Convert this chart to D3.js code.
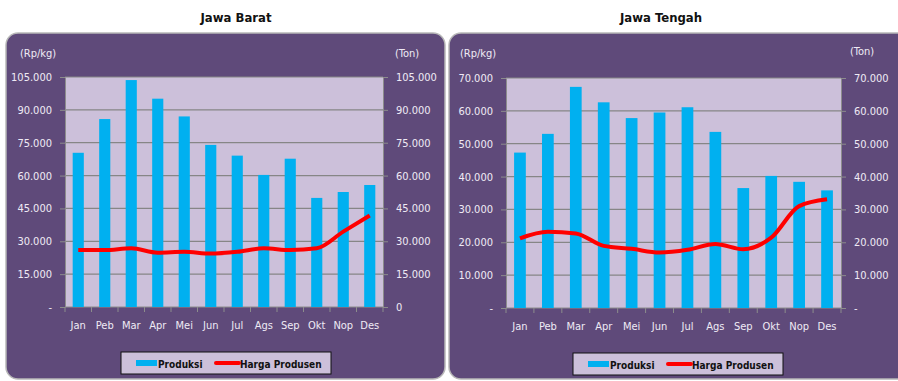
<!DOCTYPE html>
<html>
<head>
<meta charset="utf-8">
<script src="https://cdn.jsdelivr.net/npm/d3@7"></script>
<style>
  body { margin: 0; background: #fff; }
  svg { display: block; }
</style>
</head>
<body>
<svg id="chart" width="898" height="381"></svg>
<script>
// data
const months = ["Jan", "Peb", "Mar", "Apr", "Mei", "Jun", "Jul", "Ags", "Sep", "Okt", "Nop", "Des"];

const baratProduksi = [70400, 85800, 103600, 95100, 87000, 74000, 69100, 60300, 67700, 49800, 52500, 55700];
const baratHarga = [26000, 26000, 26800, 24800, 25200, 24400, 25200, 26800, 26000, 26800, 34400, 41800];
const baratTicks = [0, 15000, 30000, 45000, 60000, 75000, 90000, 105000];

const tengahProduksi = [47300, 53000, 67300, 62600, 57800, 59500, 61100, 53600, 36500, 40200, 38400, 35800];
const tengahHarga = [21200, 23200, 22700, 18900, 18000, 16900, 17700, 19500, 17900, 21400, 31000, 33100];
const tengahTicks = [0, 10000, 20000, 30000, 40000, 50000, 60000, 70000];

const svg = d3.select("#chart");
const font = "'DejaVu Sans Condensed', 'DejaVu Sans', sans-serif";
const fmt = v => v === 0 ? "-" : d3.format(",.0f")(v).replace(/,/g, ".");

function panel(o) {
  const g = svg.append("g");

  // title above the box
  g.append("text")
    .attr("x", o.titleX).attr("y", 22)
    .attr("text-anchor", "middle")
    .style("font", `bold 13px ${font}`)
    .attr("fill", "#111")
    .text(o.title);

  // purple rounded box
  g.append("rect")
    .attr("x", o.box[0]).attr("y", o.box[1])
    .attr("width", o.box[2]).attr("height", o.box[3])
    .attr("rx", 12)
    .attr("fill", "#5f4a7a")
    .attr("stroke", "#b8b8b8").attr("stroke-width", 1.5);

  const x = d3.scaleBand().domain(months).range([o.left, o.right]);
  const y = d3.scaleLinear().domain([0, o.max]).range([o.bottom, o.top]);

  // plot area
  g.append("rect")
    .attr("x", o.left).attr("y", o.top)
    .attr("width", o.right - o.left).attr("height", o.bottom - o.top)
    .attr("fill", "#ccc0da");

  // gridlines
  g.append("g").selectAll("line")
    .data(o.ticks.slice(1))
    .join("line")
    .attr("x1", o.left).attr("x2", o.right)
    .attr("y1", d => y(d)).attr("y2", d => y(d))
    .attr("stroke", "#868686").attr("stroke-width", 1.2);

  const tickText = sel => sel.selectAll("text")
    .style("font", `11px ${font}`).attr("fill", "#efeaf5");

  // left axis
  g.append("g")
    .attr("transform", `translate(${o.left},0)`)
    .call(d3.axisLeft(y).tickValues(o.ticks).tickFormat(fmt).tickSize(5).tickSizeOuter(0).tickPadding(8))
    .call(a => a.select(".domain").attr("stroke", "#8c8c8c"))
    .call(a => a.selectAll(".tick line").attr("stroke", "#8c8c8c"))
    .call(tickText);

  // right axis
  g.append("g")
    .attr("transform", `translate(${o.right},0)`)
    .call(d3.axisRight(y).tickValues(o.ticks).tickFormat(d => d === 0 ? o.rightZero : fmt(d)).tickSize(5).tickSizeOuter(0).tickPadding(8))
    .call(a => a.select(".domain").attr("stroke", "#8c8c8c"))
    .call(a => a.selectAll(".tick line").attr("stroke", "#8c8c8c"))
    .call(tickText);

  // bottom axis: ticks between categories
  g.append("line")
    .attr("x1", o.left).attr("x2", o.right)
    .attr("y1", o.bottom).attr("y2", o.bottom)
    .attr("stroke", "#8c8c8c").attr("stroke-width", 1.2);
  g.append("g").selectAll("line")
    .data(d3.range(months.length + 1))
    .join("line")
    .attr("x1", i => o.left + i * x.step()).attr("x2", i => o.left + i * x.step())
    .attr("y1", o.bottom).attr("y2", o.bottom + 5)
    .attr("stroke", "#8c8c8c");
  g.append("g").selectAll("text")
    .data(months)
    .join("text")
    .attr("x", d => x(d) + x.bandwidth() / 2)
    .attr("y", o.bottom + 22)
    .attr("text-anchor", "middle")
    .style("font", `11px ${font}`)
    .attr("fill", "#efeaf5")
    .text(d => d);

  // unit labels
  g.append("text").attr("x", o.unitL).attr("y", 57)
    .style("font", `11px ${font}`).attr("fill", "#efeaf5").text("(Rp/kg)");
  g.append("text").attr("x", o.unitR).attr("y", o.unitRY)
    .style("font", `11px ${font}`).attr("fill", "#efeaf5").text("(Ton)");

  // bars
  const bw = x.bandwidth() * 0.42;
  g.append("g").selectAll("rect")
    .data(o.produksi)
    .join("rect")
    .attr("x", (d, i) => x(months[i]) + (x.bandwidth() - bw) / 2)
    .attr("y", d => y(d))
    .attr("width", bw)
    .attr("height", d => o.bottom - y(d))
    .attr("fill", "#00b0f0");

  // price line
  const line = d3.line()
    .x((d, i) => x(months[i]) + x.bandwidth() / 2)
    .y(d => y(d))
    .curve(d3.curveMonotoneX);
  g.append("path")
    .datum(o.harga)
    .attr("d", line)
    .attr("fill", "none")
    .attr("stroke", "#ff0000")
    .attr("stroke-width", 4)
    .attr("stroke-linejoin", "round");

  // legend
  const lg = g.append("g").attr("transform", `translate(${o.legend[0]},${o.legend[1]})`);
  lg.append("rect")
    .attr("width", 210).attr("height", 22)
    .attr("fill", "#ccc0da").attr("stroke", "#111").attr("stroke-width", 1);
  lg.append("rect").attr("x", 15).attr("y", 8).attr("width", 21).attr("height", 6).attr("fill", "#00b0f0");
  lg.append("text").attr("x", 37).attr("y", 15.5)
    .style("font", `bold 10px ${font}`).attr("fill", "#111").text("Produksi");
  lg.append("line").attr("x1", 95).attr("x2", 118).attr("y1", 11).attr("y2", 11)
    .attr("stroke", "#ff0000").attr("stroke-width", 4).attr("stroke-linecap", "round");
  lg.append("text").attr("x", 119).attr("y", 15.5)
    .style("font", `bold 10px ${font}`).attr("fill", "#111").text("Harga Produsen");
}

panel({
  title: "Jawa Barat", titleX: 236,
  box: [6, 33, 439, 346],
  left: 65, right: 383, top: 77, bottom: 307,
  max: 105000, ticks: baratTicks, rightZero: "0",
  unitL: 20, unitR: 395, unitRY: 57,
  produksi: baratProduksi, harga: baratHarga,
  legend: [121, 352]
});

panel({
  title: "Jawa Tengah", titleX: 661,
  box: [449, 33, 460, 346],
  left: 506, right: 841, top: 78, bottom: 308,
  max: 70000, ticks: tengahTicks, rightZero: "-",
  unitL: 460, unitR: 850, unitRY: 55,
  produksi: tengahProduksi, harga: tengahHarga,
  legend: [573, 353]
});
</script>
</body>
</html>
